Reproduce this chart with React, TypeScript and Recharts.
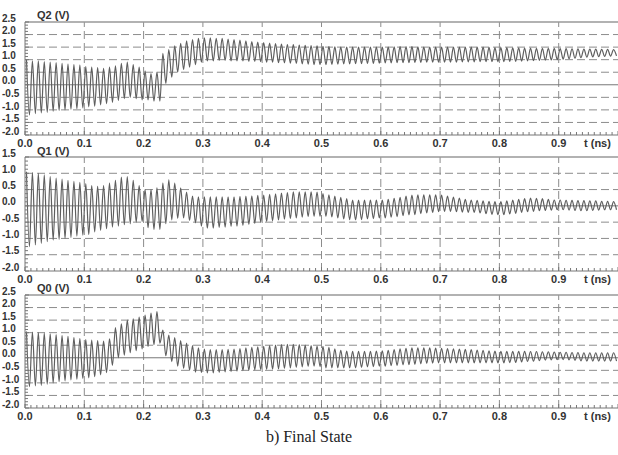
import React from "react";
import { LineChart, Line, XAxis, YAxis, ReferenceLine } from "recharts";

// one oscillation cycle per entry (peak / trough in volts)
const PERIOD = 0.01;

const Q2_HIGH = [
  1.0, 0.95, 0.95, 0.92, 0.9, 0.88, 0.85, 0.82, 0.8, 0.78,
  0.72, 0.7, 0.68, 0.65, 0.7, 0.75, 0.85, 0.9, 0.8, 0.7,
  0.55, 0.45, 0.5, 1.25, 1.4, 1.55, 1.65, 1.75, 1.8, 1.85,
  1.87, 1.87, 1.85, 1.85, 1.82, 1.8, 1.78, 1.75, 1.72, 1.7,
  1.68, 1.66, 1.64, 1.62, 1.6, 1.6, 1.58, 1.57, 1.56, 1.55,
  1.53, 1.52, 1.51, 1.5, 1.5, 1.5, 1.5, 1.5, 1.5, 1.5,
  1.5, 1.5, 1.51, 1.52, 1.52, 1.52, 1.51, 1.5, 1.5, 1.5,
  1.5, 1.5, 1.5, 1.5, 1.5, 1.5, 1.5, 1.5, 1.49, 1.48,
  1.48, 1.48, 1.47, 1.47, 1.46, 1.46, 1.45, 1.45, 1.45, 1.45,
  1.44, 1.44, 1.43, 1.43, 1.42, 1.42, 1.42, 1.41, 1.41, 1.4,
];
const Q2_LOW = [
  -1.2, -1.15, -1.12, -1.1, -1.05, -1.02, -1.0, -0.97, -0.95, -0.92,
  -0.88, -0.85, -0.8, -0.75, -0.7, -0.62, -0.55, -0.5, -0.55, -0.6,
  -0.6, -0.65, -0.65, 0.05, 0.3, 0.5, 0.6, 0.7, 0.8, 0.9,
  0.95, 0.95, 0.97, 0.97, 0.95, 0.95, 0.95, 0.93, 0.93, 0.92,
  0.9, 0.9, 0.88, 0.87, 0.86, 0.85, 0.83, 0.82, 0.8, 0.8,
  0.8, 0.81, 0.82, 0.83, 0.83, 0.84, 0.84, 0.85, 0.85, 0.86,
  0.87, 0.87, 0.88, 0.88, 0.88, 0.89, 0.89, 0.9, 0.9, 0.9,
  0.9, 0.9, 0.9, 0.91, 0.91, 0.91, 0.92, 0.92, 0.92, 0.92,
  0.92, 0.93, 0.93, 0.94, 0.95, 0.96, 0.97, 0.98, 0.99, 1.0,
  1.02, 1.04, 1.06, 1.08, 1.1, 1.11, 1.12, 1.13, 1.14, 1.15,
];

const Q1_HIGH = [
  1.05, 1.02, 1.0, 0.95, 0.9, 0.85, 0.82, 0.78, 0.75, 0.72,
  0.68, 0.62, 0.6, 0.62, 0.7, 0.78, 0.88, 0.9, 0.78, 0.62,
  0.5, 0.5, 0.55, 0.7, 0.8, 0.7, 0.55, 0.42, 0.3, 0.28,
  0.28, 0.28, 0.28, 0.28, 0.28, 0.28, 0.29, 0.3, 0.31, 0.32,
  0.33, 0.35, 0.37, 0.39, 0.41, 0.43, 0.43, 0.43, 0.43, 0.42,
  0.38, 0.34, 0.3, 0.26, 0.22, 0.18, 0.18, 0.18, 0.18, 0.18,
  0.18, 0.2, 0.23, 0.26, 0.3, 0.33, 0.34, 0.34, 0.34, 0.34,
  0.33, 0.3, 0.27, 0.24, 0.2, 0.18, 0.17, 0.15, 0.14, 0.13,
  0.13, 0.15, 0.18, 0.2, 0.22, 0.24, 0.23, 0.22, 0.2, 0.18,
  0.18, 0.17, 0.17, 0.16, 0.16, 0.15, 0.15, 0.14, 0.14, 0.13,
];
const Q1_LOW = [
  -1.25, -1.2, -1.15, -1.1, -1.05, -1.03, -1.0, -0.97, -0.93, -0.9,
  -0.88, -0.8, -0.75, -0.7, -0.65, -0.62, -0.58, -0.55, -0.5, -0.48,
  -0.67, -0.72, -0.72, -0.55, -0.43, -0.38, -0.37, -0.45, -0.52, -0.62,
  -0.68, -0.68, -0.66, -0.65, -0.63, -0.62, -0.6, -0.57, -0.54, -0.5,
  -0.48, -0.46, -0.43, -0.41, -0.39, -0.37, -0.35, -0.33, -0.32, -0.32,
  -0.32, -0.34, -0.37, -0.4, -0.42, -0.43, -0.42, -0.4, -0.39, -0.37,
  -0.37, -0.35, -0.33, -0.3, -0.28, -0.27, -0.24, -0.22, -0.2, -0.18,
  -0.17, -0.17, -0.18, -0.19, -0.2, -0.2, -0.22, -0.24, -0.26, -0.27,
  -0.27, -0.25, -0.23, -0.2, -0.18, -0.17, -0.15, -0.14, -0.13, -0.12,
  -0.12, -0.13, -0.14, -0.15, -0.15, -0.14, -0.13, -0.12, -0.12, -0.12,
];

const Q0_HIGH = [
  1.05, 1.02, 1.0, 0.98, 0.95, 0.92, 0.88, 0.85, 0.8, 0.76,
  0.72, 0.7, 0.68, 0.66, 0.75, 1.2, 1.35, 1.5, 1.55, 1.62,
  1.7, 1.78, 1.84, 1.1, 0.9, 0.8, 0.68, 0.58, 0.48, 0.4,
  0.35, 0.33, 0.33, 0.33, 0.34, 0.35, 0.37, 0.4, 0.42, 0.44,
  0.46, 0.48, 0.5, 0.52, 0.53, 0.53, 0.52, 0.5, 0.48, 0.47,
  0.46, 0.42, 0.36, 0.3, 0.27, 0.26, 0.26, 0.26, 0.26, 0.27,
  0.28, 0.3, 0.33, 0.36, 0.38, 0.4, 0.4, 0.4, 0.4, 0.39,
  0.38, 0.37, 0.36, 0.35, 0.34, 0.33, 0.31, 0.3, 0.28, 0.27,
  0.26, 0.26, 0.26, 0.26, 0.26, 0.25, 0.25, 0.24, 0.24, 0.23,
  0.22, 0.22, 0.21, 0.21, 0.2, 0.2, 0.2, 0.2, 0.2, 0.2,
];
const Q0_LOW = [
  -1.15, -1.12, -1.1, -1.05, -1.0, -0.95, -0.92, -0.88, -0.85, -0.82,
  -0.8, -0.75, -0.68, -0.59, -0.3, 0.0, 0.1, 0.2, 0.28, 0.35,
  0.45, 0.52, 0.58, 0.08, -0.15, -0.33, -0.42, -0.5, -0.57, -0.59,
  -0.6, -0.6, -0.58, -0.56, -0.55, -0.53, -0.51, -0.5, -0.48, -0.47,
  -0.46, -0.45, -0.44, -0.42, -0.4, -0.38, -0.36, -0.34, -0.33, -0.35,
  -0.4, -0.4, -0.4, -0.4, -0.4, -0.4, -0.38, -0.36, -0.35, -0.33,
  -0.33, -0.31, -0.3, -0.28, -0.27, -0.26, -0.24, -0.22, -0.21, -0.2,
  -0.2, -0.2, -0.2, -0.2, -0.2, -0.2, -0.2, -0.2, -0.2, -0.2,
  -0.2, -0.19, -0.18, -0.16, -0.14, -0.13, -0.11, -0.09, -0.08, -0.07,
  -0.07, -0.08, -0.1, -0.12, -0.13, -0.13, -0.13, -0.13, -0.13, -0.13,
];

const X_LABELS = ["0.0", "0.1", "0.2", "0.3", "0.4", "0.5", "0.6", "0.7", "0.8", "0.9", "t (ns)"];
const X_TICKS = Array.from({ length: 101 }, (_, k) => k / 100);
const X_GRID = [0.1, 0.2, 0.3, 0.4, 0.5, 0.6, 0.7, 0.8, 0.9];

const FONT = "'Liberation Sans', Arial, sans-serif";
const GRID = "#8c8c8c";
const AXIS = "#777";

function buildSeries(highs: number[], lows: number[]) {
  return highs.flatMap((h, i) => [
    { t: i * PERIOD + PERIOD / 4, v: h },
    { t: i * PERIOD + (3 * PERIOD) / 4, v: lows[i] },
  ]);
}

function XTick(props: any) {
  const { x, y, payload } = props;
  const k = Math.round(payload.value * 100);
  const major = k % 10 === 0;
  const label = major ? X_LABELS[k / 10] : null;
  return (
    <g>
      <line x1={x} x2={x} y1={y} y2={y - (major ? 4 : 3)} stroke={AXIS} />
      {label && (
        <text
          x={k === 100 ? x - 34 : x}
          y={y + 9}
          textAnchor={k === 100 ? "start" : "middle"}
          dominantBaseline="middle"
          fontFamily={FONT}
          fontWeight="bold"
          fontSize={11}
          fill="#333"
        >
          {label}
        </text>
      )}
    </g>
  );
}

function YTick(props: any) {
  const { x, y, payload } = props;
  const v = payload.value;
  const major = Math.abs(Math.round(v * 8)) % 4 === 0;
  return (
    <g>
      <line x1={x} x2={x + (major ? 4 : 3)} y1={y} y2={y} stroke={AXIS} />
      {major && (
        <text
          x={2}
          y={y - 3}
          textAnchor="start"
          dominantBaseline="middle"
          fontFamily={FONT}
          fontWeight="bold"
          fontSize={10}
          fill="#333"
        >
          {v.toFixed(1)}
        </text>
      )}
    </g>
  );
}

interface PanelProps {
  data: { t: number; v: number }[];
  yMin: number;
  yMax: number;
  top: number;
  height: number;
  marginTop: number;
}

function Panel({ data, yMin, yMax, top, height, marginTop }: PanelProps) {
  const steps = Math.round((yMax - yMin) * 8);
  const yTicks = Array.from({ length: steps + 1 }, (_, k) => yMin + k / 8);
  const yGrid = yTicks.filter(
    (v) => Math.abs(Math.round(v * 8)) % 4 === 0 && v !== 0 && v !== yMin && v !== yMax
  );

  return (
    <div style={{ position: "absolute", left: 0, top, width: 618, height }}>
      <LineChart width={618} height={height} data={data} margin={{ top: marginTop, right: 0, left: 0, bottom: 0 }}>
        <XAxis
          type="number"
          dataKey="t"
          domain={[0, 1]}
          ticks={X_TICKS}
          interval={0}
          tickLine={false}
          tickSize={0}
          tickMargin={0}
          tick={(p: any) => <XTick {...p} />}
          axisLine={{ stroke: AXIS }}
          height={15}
          allowDataOverflow
        />
        <YAxis
          type="number"
          domain={[yMin, yMax]}
          ticks={yTicks}
          interval={0}
          width={25}
          tickLine={false}
          tickSize={0}
          tickMargin={0}
          tick={(p: any) => <YTick {...p} />}
          axisLine={{ stroke: AXIS }}
          allowDataOverflow
        />
        {yGrid.map((v) => (
          <ReferenceLine key={"h" + v} y={v} stroke={GRID} strokeDasharray="8 4" />
        ))}
        {X_GRID.map((v) => (
          <ReferenceLine key={"v" + v} x={v} stroke={GRID} strokeDasharray="8 4" />
        ))}
        <ReferenceLine y={0} stroke="#777" />
        <ReferenceLine y={yMax} stroke="#999" strokeWidth={1.5} />
        <Line
          type="monotone"
          dataKey="v"
          stroke="#5e5e5e"
          strokeWidth={1.2}
          dot={false}
          isAnimationActive={false}
        />
      </LineChart>
    </div>
  );
}

export default function App() {
  const q2 = buildSeries(Q2_HIGH, Q2_LOW);
  const q1 = buildSeries(Q1_HIGH, Q1_LOW);
  const q0 = buildSeries(Q0_HIGH, Q0_LOW);

  return (
    <div style={{ position: "absolute", left: 0, top: 0, width: 618, height: 455, background: "#fff", overflow: "hidden" }}>
      <Panel data={q2} yMin={-2} yMax={2.5} top={0} height={150} marginTop={22} />
      <Panel data={q1} yMin={-2} yMax={1.5} top={140} height={146} marginTop={17} />
      <Panel data={q0} yMin={-2} yMax={2.5} top={280} height={143} marginTop={15} />
      <svg width={618} height={455} style={{ position: "absolute", left: 0, top: 0, pointerEvents: "none" }}>
        <g fontFamily={FONT} fontWeight="bold" fontSize={11} fill="#333">
          <text x={37} y={16} dominantBaseline="middle">Q2 (V)</text>
          <text x={37} y={152} dominantBaseline="middle">Q1 (V)</text>
          <text x={37} y={289} dominantBaseline="middle">Q0 (V)</text>
        </g>
        <text
          x={309}
          y={442}
          textAnchor="middle"
          fontFamily="'Liberation Serif', 'Times New Roman', serif"
          fontSize={16}
          fill="#222"
        >
          b) Final State
        </text>
      </svg>
    </div>
  );
}
